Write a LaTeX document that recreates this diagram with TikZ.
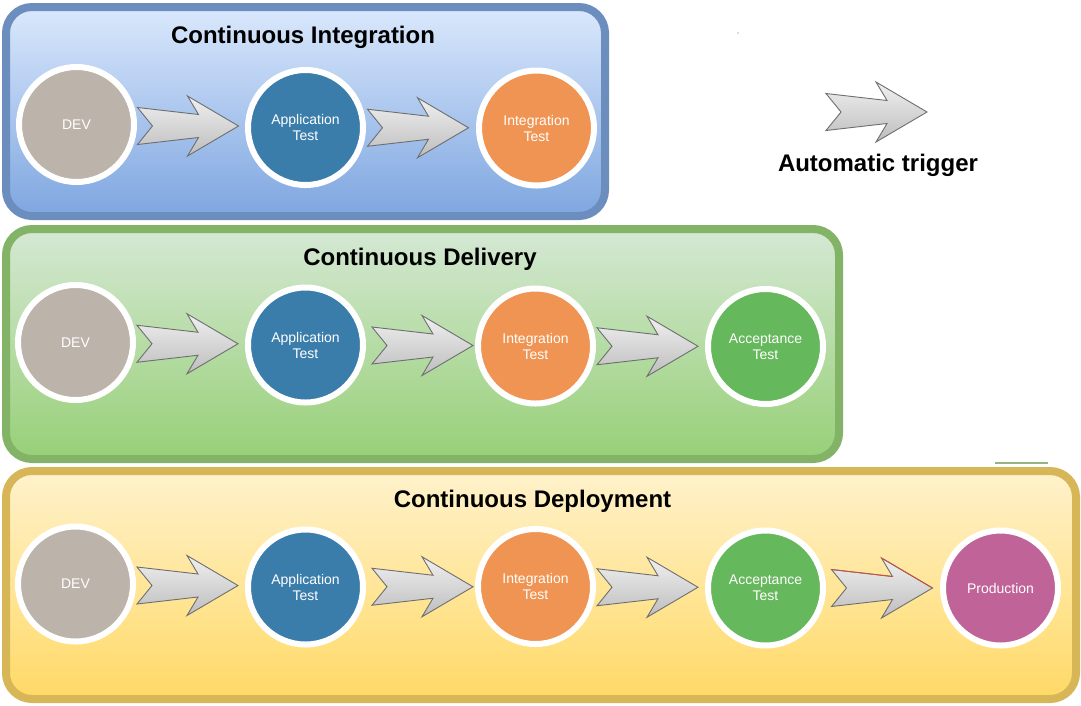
\documentclass[tikz,border=0pt]{standalone}
\usepackage{fontspec}
\setmainfont{Liberation Sans}
\usetikzlibrary{calc}
\definecolor{ciT}{HTML}{DAE8FC}
\definecolor{ciBot}{HTML}{7EA6E0}
\definecolor{ciLine}{HTML}{6C8EBF}
\definecolor{cdT}{HTML}{D5E8D4}
\definecolor{cdBot}{HTML}{97D077}
\definecolor{cdLine}{HTML}{82B366}
\definecolor{cpT}{HTML}{FFF2CC}
\definecolor{cpBot}{HTML}{FFD966}
\definecolor{cpLine}{HTML}{D6B656}
\definecolor{cDev}{HTML}{BCB3AA}
\definecolor{cApp}{HTML}{3A7DAB}
\definecolor{cInt}{HTML}{EF9452}
\definecolor{cAcc}{HTML}{66B85C}
\definecolor{cProd}{HTML}{C06399}
\definecolor{arrowtop}{HTML}{F0F0F0}
\definecolor{arrowbot}{HTML}{BDBDBD}
\definecolor{arrowline}{HTML}{6E6E6E}
\tikzset{
  grp/.style={line width=8pt, rounded corners=26pt},
  stage/.style={circle, draw=white, line width=6pt, minimum size=115pt, inner sep=0pt,
    text=white, align=center, font=\fontsize{14}{16}\selectfont},
  title/.style={font=\fontsize{24}{28}\selectfont\bfseries, anchor=base, inner sep=0pt},
  blockarrow/.style={draw=arrowline, line width=0.9pt, top color=arrowtop, bottom color=arrowbot, line join=miter}
}
\newcommand\arrowat[1]{%
  \draw[blockarrow, shift={(#1)}] (-53.5,-18.5) -- (7.5,-11.5) -- (-3.5,-30) -- (47.5,0) -- (-3.5,30) -- (7.5,11.5) -- (-53.5,18.5) -- (-38.5,0) -- cycle;}
\newcommand\connarrow[3][0]{%
  \coordinate (m) at ($($(#2.east)!0.5!(#3.west)$)+(#1,0)$);
  \arrowat{m}}
\begin{document}
\begin{tikzpicture}[x=1pt,y=-1pt]
\useasboundingbox (0,0) rectangle (1081,705);
% group boxes
\draw[grp, draw=cpLine, top color=cpT, bottom color=cpBot] (6,471) rectangle (1076,699);
\draw[grp, draw=cdLine, top color=cdT, bottom color=cdBot] (6,229) rectangle (839,459);
\draw[grp, draw=ciLine, top color=ciT, bottom color=ciBot] (6,7) rectangle (605,216);
% titles
\node[title] (t1) at (303,43.3) {Continuous Integration};
\node[title] (t2) at (420,265.7) {Continuous Delivery};
\node[title] (t3) at (532.5,507) {Continuous Deployment};
\node[title] (legend) at (878,171) {Automatic trigger};
% row 1
\node[stage, fill=cDev] (d1) at (76.5,124.5) {DEV};
\node[stage, fill=cApp] (a1) at (305.5,127.5) {Application\\Test};
\node[stage, fill=cInt] (i1) at (536.5,128) {Integration\\Test};
% row 2
\node[stage, fill=cDev] (d2) at (75.5,342.5) {DEV};
\node[stage, fill=cApp] (a2) at (305.5,345) {Application\\Test};
\node[stage, fill=cInt] (i2) at (535.5,346) {Integration\\Test};
\node[stage, fill=cAcc] (c2) at (765.5,346.5) {Acceptance\\Test};
% row 3
\node[stage, fill=cDev] (d3) at (75.5,584) {DEV};
\node[stage, fill=cApp] (a3) at (305.5,587) {Application\\Test};
\node[stage, fill=cInt] (i3) at (535.5,586.5) {Integration\\Test};
\node[stage, fill=cAcc] (c3) at (765.5,588) {Acceptance\\Test};
\node[stage, fill=cProd] (p3) at (1000.5,588) {Production};
% arrows
\connarrow{d1}{a1}
\connarrow{a1}{i1}
\connarrow{d2}{a2}
\connarrow[5]{a2}{i2}
\connarrow{i2}{c2}
\connarrow{d3}{a3}
\connarrow[5]{a3}{i3}
\connarrow{i3}{c3}
\connarrow[2]{c3}{p3}
\draw[color={rgb,255:red,200;green,80;blue,60}, line width=0.9pt, shift={(m)}] (-53.5,-18.5) -- (7.5,-11.5) (-3.5,-30) -- (47.5,0);
% legend arrow
\coordinate (leg) at (879.5,112);
\arrowat{leg}
% small artefacts
\fill[black!60] (738,33) circle (0.7);
\draw[color={rgb,255:red,150;green,180;blue,130}, line width=1.2pt] (995,463) -- (1048,463);
\end{tikzpicture}
\end{document}
